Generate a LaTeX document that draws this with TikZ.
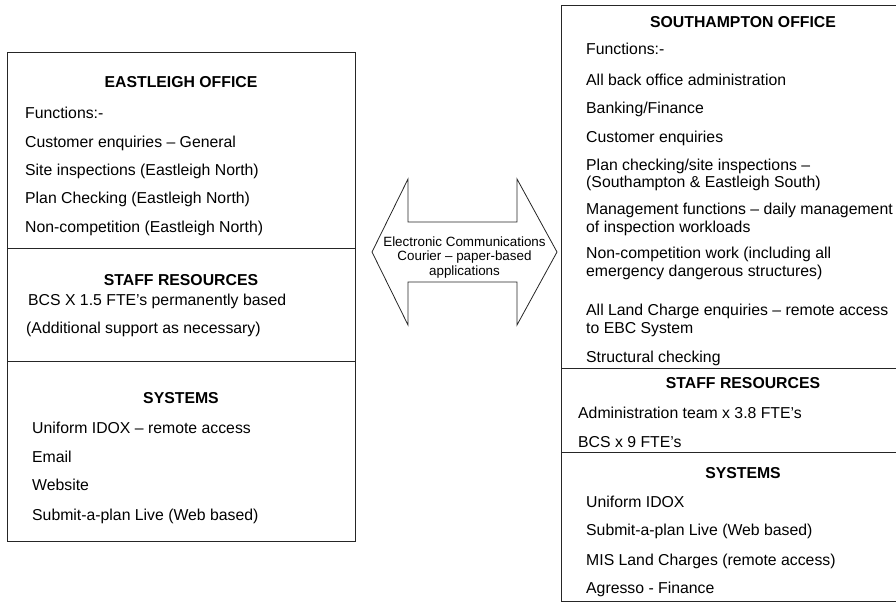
\documentclass[tikz,border=0pt]{standalone}
\usepackage{fontspec}
\setmainfont{Liberation Sans}
\tikzset{x=1pt, y=-1pt,
    every node/.style={inner sep=0pt, font=\fontsize{15.8}{18}\selectfont},
    item/.style={anchor=base west},
    head/.style={anchor=base, font=\fontsize{15.8}{18}\selectfont\bfseries},
    frame/.style={draw=black!85, line width=1pt, anchor=north west},
    }

\begin{document}
\begin{tikzpicture}
\useasboundingbox (0,0) rectangle (896,602);
\clip (0,0) rectangle (896,602);

% Eastleigh office
\node[frame, minimum width=348, minimum height=196] (eoffice) at (7,52) {};
\node[frame, minimum width=348, minimum height=113] (estaff) at (7,248) {};
\node[frame, minimum width=348, minimum height=180] (esys) at (7,361) {};
\node[head] (etitle) at (181,87.5) {EASTLEIGH OFFICE};
\node[item] (efunc) at (25,118.5) {Functions:-};
\node[item] (ecust) at (25,147.5) {Customer enquiries -- General};
\node[item] (esite) at (25,175.5) {Site inspections (Eastleigh North)};
\node[item] (eplan) at (25,203.5) {Plan Checking (Eastleigh North)};
\node[item] (enonc) at (25,232.5) {Non-competition (Eastleigh North)};
\node[head] (estafftitle) at (181,285.5) {STAFF RESOURCES};
\node[item] (ebcs) at (28,305.5) {BCS X 1.5 FTE's permanently based};
\node[item] (eaddl) at (26,333.5) {(Additional support as necessary)};
\node[head] (esystitle) at (181,403.5) {SYSTEMS};
\node[item] (eidox) at (32,433) {Uniform IDOX -- remote access};
\node[item] (email) at (32,462) {Email};
\node[item] (eweb) at (32,490) {Website};
\node[item] (esap) at (32,520) {Submit-a-plan Live (Web based)};

% link between the offices
\coordinate (al) at (372,252);
\coordinate (ar) at (557,252);
\draw[draw=black!85, line width=0.8pt] (al) -- (408,179) -- (408,222) -- (517,222)
    -- (517,179) -- (ar) -- (517,325) -- (517,282) -- (408,282) -- (408,325) -- cycle;
\node[align=center, font=\fontsize{13.4}{14.6}\selectfont] (link) at (464.5,257.5)
    {Electronic Communications\\Courier -- paper-based\\applications};

% Southampton office
\node[frame, minimum width=364, minimum height=362.5] (soffice) at (561,5.5) {};
\node[frame, minimum width=364, minimum height=84] (sstaff) at (561,368) {};
\node[frame, minimum width=364, minimum height=149] (ssys) at (561,452) {};
\node[head] (stitle) at (743,27.5) {SOUTHAMPTON OFFICE};
\node[item] (sfunc) at (586,54.5) {Functions:-};
\node[item] (sback) at (586,85.5) {All back office administration};
\node[item] (sbank) at (586,113.5) {Banking/Finance};
\node[item] (scust) at (586,142.5) {Customer enquiries};
\node[item] (splan) at (586,170.5) {Plan checking/site inspections --};
\node[item] (splanb) at (586,187.5) {(Southampton \& Eastleigh South)};
\node[item] (smgmt) at (586,214.5) {Management functions -- daily management};
\node[item] (smgmtb) at (586,232.5) {of inspection workloads};
\node[item] (snonc) at (586,258.5) {Non-competition work (including all};
\node[item] (snoncb) at (586,276.5) {emergency dangerous structures)};
\node[item] (sland) at (586,315.5) {All Land Charge enquiries -- remote access};
\node[item] (slandb) at (586,333.5) {to EBC System};
\node[item] (sstruct) at (586,362.5) {Structural checking};
\node[head] (sstafftitle) at (743,388.5) {STAFF RESOURCES};
\node[item] (sadmin) at (578,418.5) {Administration team x 3.8 FTE's};
\node[item] (sbcs) at (578,447.5) {BCS x 9 FTE's};
\node[head] (ssystitle) at (743,478.5) {SYSTEMS};
\node[item] (sidox) at (586,507.5) {Uniform IDOX};
\node[item] (ssap) at (586,535.5) {Submit-a-plan Live (Web based)};
\node[item] (smis) at (586,565.5) {MIS Land Charges (remote access)};
\node[item] (sagr) at (586,593.5) {Agresso - Finance};
\end{tikzpicture}
\end{document}
